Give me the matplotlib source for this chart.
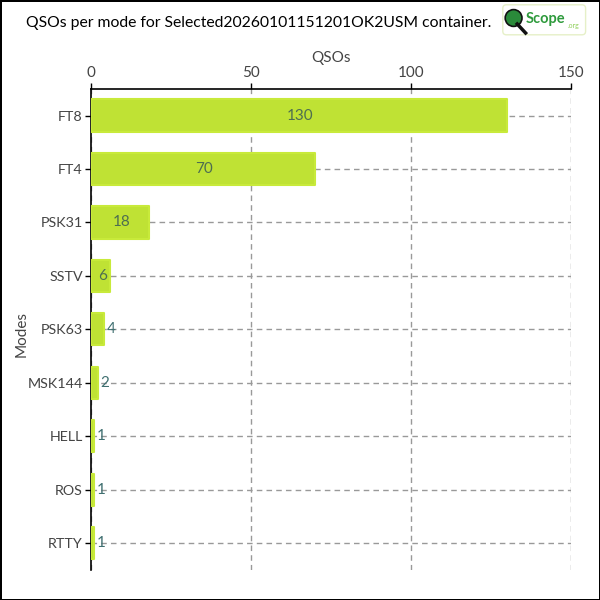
import matplotlib
matplotlib.use("Agg")
import matplotlib.pyplot as plt
from matplotlib.patches import FancyBboxPatch, Circle
from matplotlib.lines import Line2D

modes = ["FT8", "FT4", "PSK31", "SSTV", "PSK63", "MSK144", "HELL", "ROS", "RTTY"]
qsos = [130, 70, 18, 6, 4, 2, 1, 1, 1]
title = "QSOs per mode for Selected20260101151201OK2USM container."

plt.rcParams['font.family'] = ['Lato', 'DejaVu Sans']

fig = plt.figure(figsize=(6, 6), dpi=100)
ax = fig.add_axes([0.152, 0.05, 0.8, 0.802])

ypos = list(range(len(modes)))
bars = ax.barh(ypos, qsos, height=0.6, color="#bfe234", edgecolor="#c8ea3a",
               linewidth=1.5, joinstyle="round", zorder=3)

# labels inside wide bars, just right of the narrow ones
for bar, v in zip(bars, qsos):
    y = bar.get_y() + bar.get_height() / 2
    if v >= 6:
        ax.text(v / 2 + 0.4, y, str(v), ha="center", va="center",
                color="#4e6e50", fontsize=11, zorder=4)
    else:
        ax.text(v + 0.8, y, str(v), ha="left", va="center",
                color="#3f6f70", fontsize=11, zorder=4)

ax.set_xlim(0, 150)
ax.set_ylim(len(modes) - 0.5, -0.5)
ax.set_yticks(ypos)
ax.set_yticklabels(modes)
ax.set_xticks([0, 50, 100, 150])

ax.xaxis.tick_top()
ax.xaxis.set_label_position("top")
ax.set_xlabel("QSOs", fontsize=11, color="#444444", labelpad=3)
ax.set_ylabel("Modes", fontsize=11, color="#444444")
ax.yaxis.set_label_coords(-0.131, 0.49)
ax.tick_params(axis="both", labelsize=11, labelcolor="#444444", colors="black",
               length=4, width=1, pad=2)
ax.tick_params(axis="y", labelsize=10.3)

ax.spines["right"].set_visible(False)
ax.spines["bottom"].set_visible(False)
ax.spines["top"].set_linewidth(1.2)
ax.spines["left"].set_linewidth(1.2)

ax.grid(True, linestyle=(0, (4, 3)), color="#999999", linewidth=1, zorder=0)
ax.set_axisbelow(True)

fig.text(0.043, 0.962, title, ha="left", va="center", fontsize=11.3, color="black")

# logo box
logo = FancyBboxPatch((0.838, 0.942), 0.138, 0.05, boxstyle="round,pad=0,rounding_size=0.006",
                      transform=fig.transFigure, facecolor="white", edgecolor="#e6f0c8",
                      linewidth=1)
fig.patches.append(logo)
fig.lines.append(Line2D([0.862, 0.876], [0.96, 0.945], transform=fig.transFigure,
                        color="#111111", linewidth=2.5))
fig.patches.append(Circle((0.856, 0.97), 0.014, transform=fig.transFigure,
                          facecolor="#2a8a3a", edgecolor="#111111", linewidth=1.2))
fig.text(0.876, 0.969, "Scope", ha="left", va="center", fontsize=10.5, fontweight="bold",
         color="#2e9a3c")
fig.text(0.946, 0.958, ".org", ha="left", va="center", fontsize=5, color="#8fcf5a")

fig.patch.set_edgecolor("black")
fig.patch.set_linewidth(2)

fig.savefig("out.png", dpi=100, edgecolor=fig.get_edgecolor())
